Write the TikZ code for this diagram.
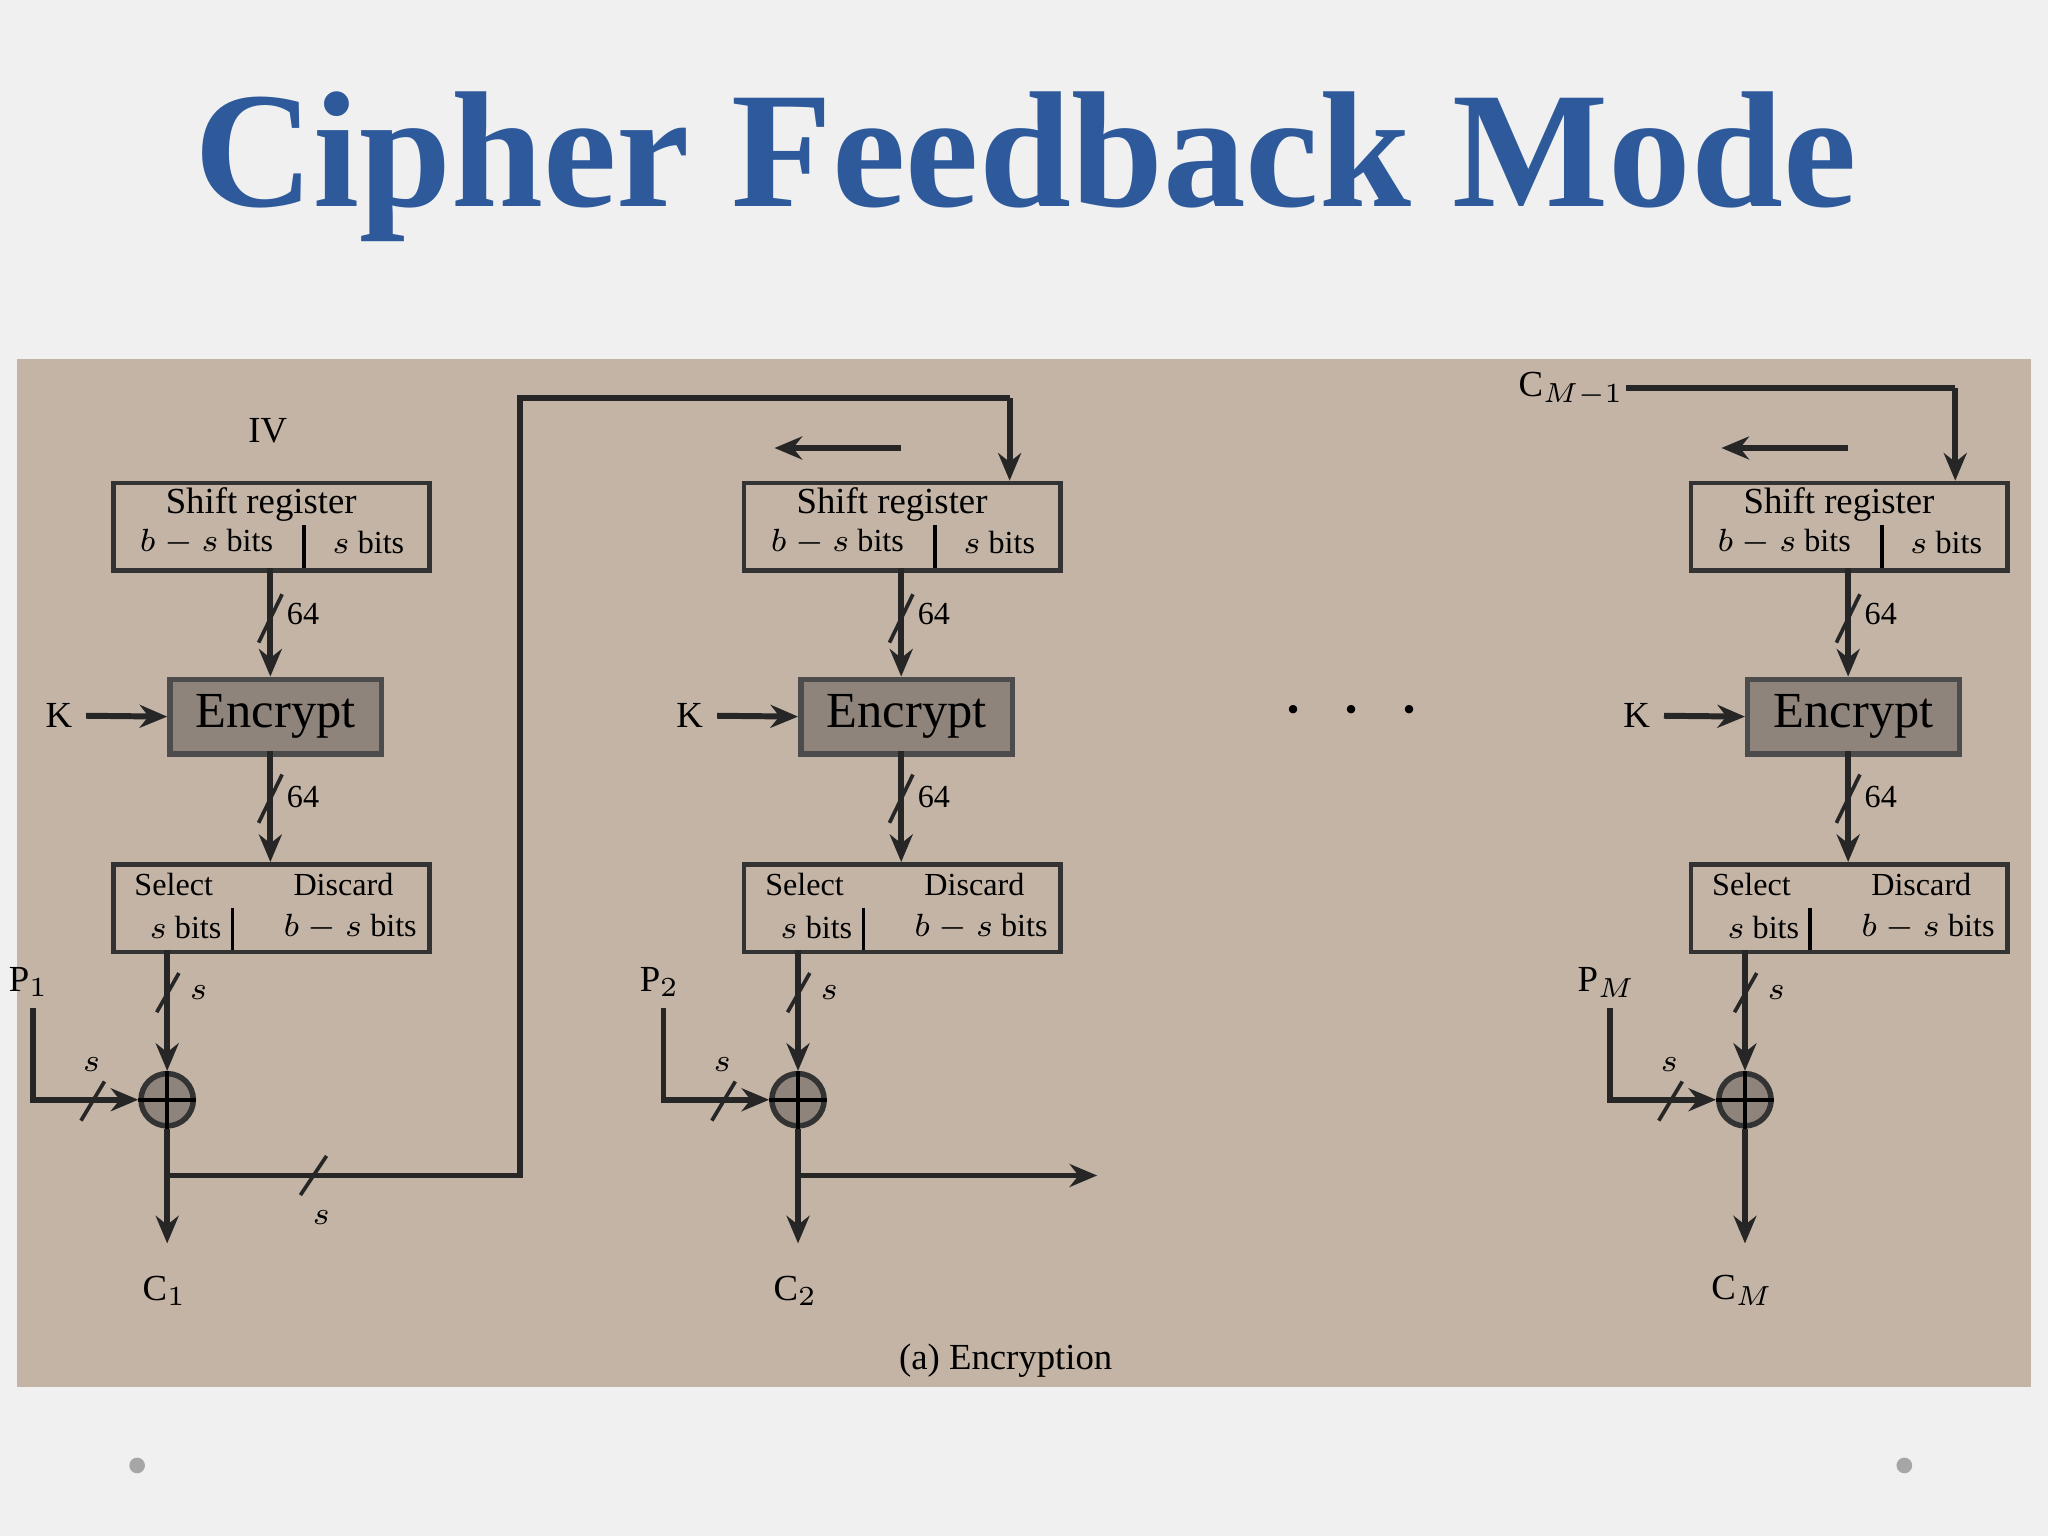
\documentclass[tikz,border=0pt]{standalone}
\usepackage{fontspec}
\setmainfont{Liberation Serif}
\usetikzlibrary{arrows.meta,calc}
\definecolor{ttl}{HTML}{2E5A9C}
\definecolor{panel}{HTML}{C3B4A5}
\definecolor{enc}{HTML}{8E847B}
\tikzset{
 box/.style={draw=black!80,line width=1pt,minimum width=2.42cm,minimum height=0.67cm,inner sep=0pt},
 encbox/.style={draw=black!70,fill=enc,line width=1.2pt,minimum width=1.62cm,minimum height=0.57cm,font=\fontsize{11}{11}\selectfont},
 ln/.style={line width=1.3pt,black!85},
 arr/.style={ln,-{Stealth[length=6pt,width=5pt]}},
 lbl/.style={font=\fontsize{7}{7}\selectfont,inner sep=0pt},
 big/.style={font=\fontsize{8}{8}\selectfont,inner sep=0pt},
 sl/.style={ln,line width=0.8pt}
}
\begin{document}
\begin{tikzpicture}[x=0.01cm,y=-0.01cm]
\fill[gray!12] (0,0) rectangle (1568,1176);
\node[font=\bfseries\fontsize{36}{38}\selectfont,text=ttl] (title) at (785,128) {Cipher Feedback Mode};
\fill[panel] (13,275) rectangle (1555,1062);
\fill[gray!70] (105,1122) circle (6);
\fill[gray!70] (1458,1122) circle (6);
\foreach \o/\i/\p/\c in {0/1/P$_1$/C$_1$, 483/2/P$_2$/C$_2$, 1208/3/P$_M$/C$_M$}{
 \begin{scope}[shift={(\o,0)}]
 \node[box,anchor=north west] (sr\i) at (85,368) {};
 \node[big] (srt\i) at (200,386) {Shift register};
 \node[lbl] (srl\i) at (158,415) {$b-s$ bits};
 \node[lbl] (srr\i) at (282,415) {$s$ bits};
 \draw[line width=0.8pt] (233,402) -- (233,435);
 \node[encbox,anchor=north west] (en\i) at (128,518) {Encrypt};
 \node[box,anchor=north west] (se\i) at (85,660) {};
 \node[lbl] (sa\i) at (133,677) {Select};
 \node[lbl] (sb\i) at (142,710) {$s$ bits};
 \node[lbl] (da\i) at (263,677) {Discard};
 \node[lbl] (db\i) at (268,710) {$b-s$ bits};
 \draw[line width=0.8pt] (178,695) -- (178,727);
 \node[draw=black!80,fill=enc,line width=1.2pt,circle,minimum size=0.4cm,inner sep=0pt] (x\i) at (128,842) {};
 \draw[line width=0.8pt] (x\i.north) -- (x\i.south) (x\i.west) -- (x\i.east);
 \coordinate (a\i) at (207,435); \coordinate (b\i) at (207,518);
 \draw[arr] (a\i) -- (b\i);
 \coordinate (c\i) at (207,575); \coordinate (d\i) at (207,660);
 \draw[arr] (c\i) -- (d\i);
 \draw[sl] (198,492)--(216,455); \node[lbl] (n64a\i) at (232,470) {64};
 \draw[sl] (198,630)--(216,593); \node[lbl] (n64b\i) at (232,610) {64};
 \coordinate (e\i) at (128,727);
 \draw[arr] (e\i) -- (x\i);
 \draw[sl] (120,775)--(137,745); \node[lbl] (ns\i) at (152,760) {$s$};
 \node[big] (p\i) at (22,752) {\p};
 \coordinate (f\i) at (25,772); \coordinate (g\i) at (25,842);
 \draw[arr] (f\i) -- (g\i) -- (x\i);
 \draw[sl] (62,858)--(80,828); \node[lbl] (nps\i) at (70,815) {$s$};
 \node[big] (cc\i) at (126,988) {\c};
 \coordinate (h\i) at (128,952);
 \draw[arr] (x\i) -- (h\i);
 \node[big] (kk\i) at (45,548) {K};
 \coordinate (k\i) at (66,548);
 \draw[arr] (k\i) -- (en\i.west);
 \end{scope}
}
\draw[ln] (128,900) -- (398,900) -- (398,305) -- (773,305);
\draw[arr] (773,305) -- (773,368);
\draw[sl] (230,915)--(250,885); \node[lbl] (s1) at (246,932) {$s$};
\draw[arr] (612,900) -- (840,900);
\draw[arr] (690,343) -- (593,343);
\draw[arr] (1415,343) -- (1318,343);
\node[big] (iv) at (205,330) {IV};
\node[big] (cm) at (1203,298) {C$_{M-1}$};
\draw[ln] (1245,297) -- (1497,297);
\draw[arr] (1497,297) -- (1497,368);
\node[font=\fontsize{16}{16}\selectfont,inner sep=0pt] (dots) at (1035,545) {$\cdot\ \cdot\ \cdot$};
\node[big] (cap) at (770,1042) {(a) Encryption};
\end{tikzpicture}
\end{document}
